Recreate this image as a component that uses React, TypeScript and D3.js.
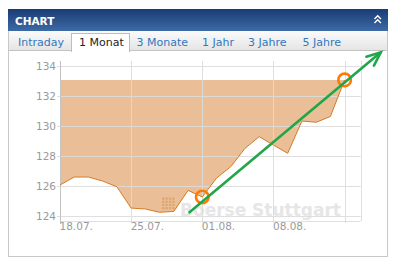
import React from "react";
import * as d3 from "d3";

const dates = ["18.07.","19.07.","20.07.","21.07.","22.07.","25.07.","26.07.","27.07.","28.07.","29.07.","01.08.","02.08.","03.08.","04.08.","05.08.","08.08.","09.08.","10.08.","11.08.","12.08.","15.08."];
const values = [126.07,126.6,126.6,126.33,125.95,124.53,124.47,124.25,124.31,125.71,125.27,126.53,127.29,128.51,129.29,128.73,128.18,130.33,130.25,130.63,133.07];
const yTicks = [124,126,128,130,132,134];
const xTickIdx = [0,5,10,15,20];
const xTickLabels = ["18.07.","25.07.","01.08.","08.08.",""];
const tabs = ["Intraday","1 Monat","3 Monate","1 Jahr","3 Jahre","5 Jahre"];
const tabX = [18,79,136.5,202,248,302.5];
const markIdx = [10,20];
const arrowFrom = {i: 9.1, v: 124.25};
const arrowTo = {i: 22.54, v: 134.91};

export default function App() {
  const W = 393, H = 264;
  const left = 60, right = 360.7, top = 61, bottom = 221;
  const x = d3.scaleLinear().domain([0, 21.13]).range([left, right]);
  const y = d3.scaleLinear().domain([123.67, 134.33]).range([bottom, top]);
  const maxV = d3.max(values) as number;
  const area = d3.area<number>().x((_, i) => x(i)).y0(y(maxV)).y1(d => y(d));
  const line = d3.line<number>().x((_, i) => x(i)).y(d => y(d));
  const font = "'DejaVu Sans', Verdana, sans-serif";

  const ax1 = x(arrowFrom.i), ay1 = y(arrowFrom.v), ax2 = x(arrowTo.i), ay2 = y(arrowTo.v);
  const ang = Math.atan2(ay1 - ay2, ax1 - ax2);
  const hl = 15, ha = 23 * Math.PI / 180;
  const w1 = [ax2 + hl * Math.cos(ang - ha), ay2 + hl * Math.sin(ang - ha)];
  const w2 = [ax2 + hl * Math.cos(ang + ha), ay2 + hl * Math.sin(ang + ha)];

  return (
    <svg width={W} height={H} style={{position: "absolute", left: 0, top: 0}} fontFamily={font}>
      <defs>
        <linearGradient id="hdr" x1="0" y1="0" x2="0" y2="1">
          <stop offset="0" stopColor="#1a3c74" />
          <stop offset="1" stopColor="#3c6aa5" />
        </linearGradient>
        <linearGradient id="tabbg" x1="0" y1="0" x2="0" y2="1">
          <stop offset="0" stopColor="#fbfbfb" />
          <stop offset="1" stopColor="#e4e4e4" />
        </linearGradient>
      </defs>
      <rect x={0} y={0} width={W} height={H} fill="#fff" />
      {/* frame */}
      <rect x={8.5} y={9.5} width={379} height={247} fill="#fff" stroke="#c8c8c8" />
      {/* header */}
      <rect x={8} y={9} width={380} height={22} fill="url(#hdr)" />
      <text x={15} y={24.5} fill="#fff" fontWeight="bold" fontSize={10.5}>CHART</text>
      <polyline points="374.5,19 377.7,15.8 380.9,19" fill="none" stroke="#fff" strokeWidth={1.4} />
      <polyline points="374.5,23 377.7,19.8 380.9,23" fill="none" stroke="#fff" strokeWidth={1.4} />
      {/* tabs */}
      <rect x={9} y={31} width={378} height={19.5} fill="url(#tabbg)" />
      <line x1={9} x2={387} y1={50.5} y2={50.5} stroke="#c4c4c4" />
      <rect x={71.5} y={33.5} width={58} height={18} fill="#fff" stroke="#bdbdbd" />
      <rect x={72} y={50} width={57} height={2} fill="#fff" />
      {tabs.map((t, i) => (
        <text key={t} x={tabX[i]} y={46} fontSize={11} fill={i === 1 ? "#222" : "#2f78c2"}>{t}</text>
      ))}
      {/* watermark */}
      <g opacity={0.55}>
        {d3.range(16).map(k => (
          <rect key={k} x={162 + (k % 4) * 3.4} y={197.5 + Math.floor(k / 4) * 3.2} width={2.4} height={2.2} fill="#d9a070" />
        ))}
      </g>
      <text x={180} y={215.5} fontSize={17} fontWeight="bold" fill="#e6e6e6">Boerse Stuttgart</text>
      {/* fill */}
      <path d={area(values) || ""} fill="rgb(214,128,48)" fillOpacity={0.5} />
      {/* grid */}
      <g stroke="#dcdcdc" strokeWidth={1} opacity={0.9}>
        {yTicks.map(t => (
          <line key={t} x1={left - 3} x2={right} y1={Math.round(y(t)) + 0.5} y2={Math.round(y(t)) + 0.5} />
        ))}
        {xTickIdx.map(i => (
          <line key={i} x1={Math.round(x(i)) + 0.5} x2={Math.round(x(i)) + 0.5} y1={top} y2={bottom + 2} />
        ))}
        <line x1={Math.round(right) + 0.5} x2={Math.round(right) + 0.5} y1={top} y2={bottom} />
        <line x1={left} x2={right} y1={bottom + 0.5} y2={bottom + 0.5} />
      </g>
      <g stroke="#c3c3c3" fill="none">
        <line x1={left + 0.5} x2={left + 0.5} y1={top} y2={bottom + 3} />
      </g>
      <path d={line(values) || ""} fill="none" stroke="#d77a22" strokeWidth={1} />
      {yTicks.map(t => (
        <text key={t} x={56} y={y(t) + 3.8} textAnchor="end" fontSize={10.5} fill="#9a9a9a">{t}</text>
      ))}
      {xTickIdx.map((i, k) => (
        <text key={i} x={x(i) - 0.5} y={230} fontSize={10.5} fill="#9a9a9a">{xTickLabels[k]}</text>
      ))}
      {/* annotations */}
      {markIdx.map(i => (
        <circle key={i} cx={x(i)} cy={y(values[i])} r={6.3} fill="none" stroke="#ff7a00" strokeWidth={2.6} />
      ))}
      <g stroke="#22a64a" strokeWidth={2.6} strokeLinecap="round" fill="none">
        <line x1={ax1} y1={ay1} x2={ax2} y2={ay2} />
        <polyline points={`${w1[0]},${w1[1]} ${ax2},${ay2} ${w2[0]},${w2[1]}`} />
      </g>
    </svg>
  );
}
